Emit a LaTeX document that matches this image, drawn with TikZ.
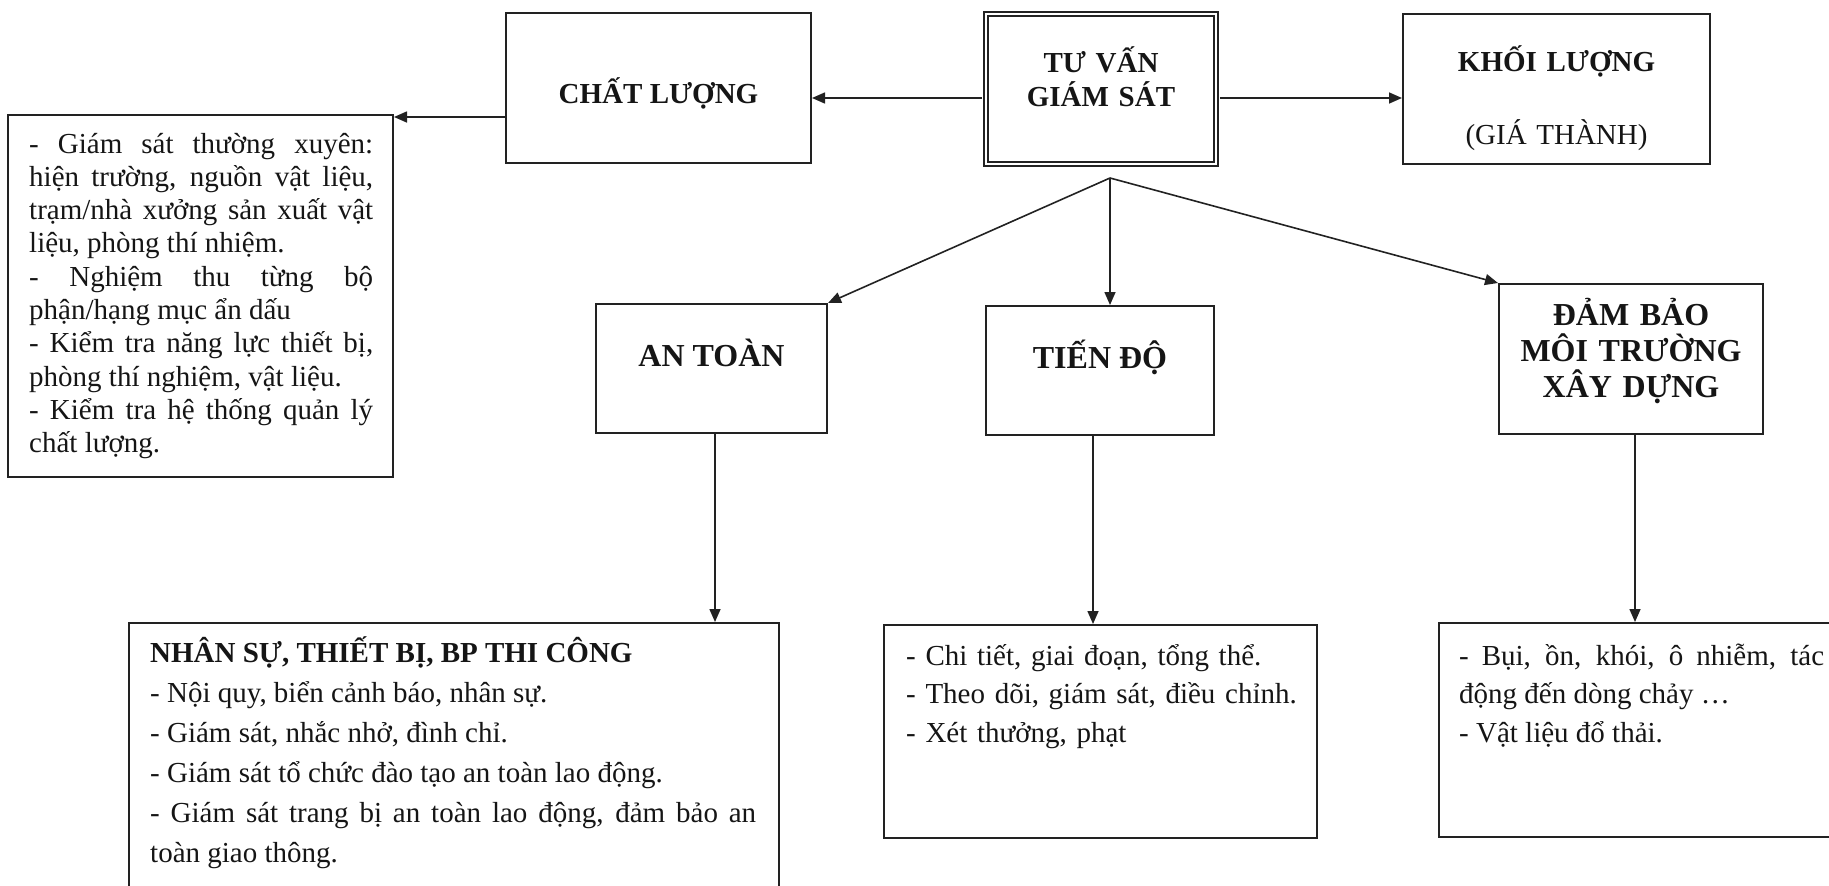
\documentclass[tikz,border=0pt]{standalone}
\usepackage{fontspec}
\setmainfont{Liberation Serif}
\usetikzlibrary{arrows.meta}
\definecolor{linec}{HTML}{222222}
\definecolor{textc}{HTML}{151515}
\lineskiplimit=-100pt
\hyphenpenalty=10000
\newcommand{\fsbody}[1]{\fontsize{29}{#1}\selectfont}
\begin{document}
\begin{tikzpicture}[x=1pt,y=-1pt,
  box/.style={draw=linec, line width=2pt, rectangle, inner sep=0pt},
  arr/.style={draw=linec, line width=1.6pt, -{Triangle[length=13pt,width=11pt]}},
  ttl/.style={anchor=base, inner sep=0pt, text=textc, font=\fontsize{29}{34}\selectfont\bfseries},
  mid/.style={anchor=base, inner sep=0pt, text=textc, font=\fontsize{32}{36}\selectfont\bfseries},
  body/.style={anchor=base west, inner sep=0pt, text=textc}
]
\useasboundingbox (0,0) rectangle (1829,886);
\clip (0,0) rectangle (1829,886);

% boxes
\node[box, minimum width=385pt, minimum height=362pt] (qbox) at (200.5,296) {};
\node[box, minimum width=305pt, minimum height=150pt] (chat) at (658.5,88) {};
\node[box, double=white, double distance=2.4pt, line width=1.6pt, minimum width=230.5pt, minimum height=150.5pt] (tvgs) at (1101,89) {};
\node[box, minimum width=307pt, minimum height=150pt] (khoi) at (1556.5,89) {};
\node[box, minimum width=231pt, minimum height=129pt] (an) at (711.5,368.5) {};
\node[box, minimum width=228pt, minimum height=129pt] (tien) at (1100,370.5) {};
\node[box, minimum width=264pt, minimum height=150pt] (dam) at (1631,359) {};
\node[box, minimum width=650pt, minimum height=277pt] (nhan) at (454,761.5) {};
\node[box, minimum width=433pt, minimum height=213pt] (tiend) at (1100.5,731.5) {};
\node[box, minimum width=411pt, minimum height=214pt] (bui) at (1644.5,730) {};

% titles
\node[ttl] (chatT) at (658.5,103) {CHẤT LƯỢNG};
\node[ttl, text width=220pt, align=center] (tvgsT) at (1101,72.6) {\fontsize{29}{34}\selectfont\bfseries TƯ VẤN\\GIÁM SÁT};
\node[anchor=base, inner sep=0pt, text=textc, text width=300pt, align=center,
      font=\fontsize{29}{73}\selectfont] (khoiT) at (1556.5,71.6) {\fontsize{29}{73}\selectfont\textbf{KHỐI LƯỢNG}\\(GIÁ THÀNH)};
\node[mid] (anT) at (711.5,366) {AN TOÀN};
\node[mid] (tienT) at (1100,368) {TIẾN ĐỘ};
\node[mid, text width=260pt, align=center] (damT) at (1631,325.6) {\fontsize{32}{36}\selectfont\bfseries ĐẢM BẢO\\MÔI TRƯỜNG\\XÂY DỰNG};

% body texts
\node[body, font=\fsbody{33.3}, text width=344pt, align=justify] (qT) at (29,153) {\fsbody{33.3}%
- Giám sát thường xuyên:\linebreak hiện trường, nguồn vật liệu,\linebreak trạm/nhà xưởng sản xuất vật\linebreak liệu, phòng thí nhiệm.\par
- Nghiệm thu từng bộ\linebreak phận/hạng mục ẩn dấu\par
- Kiểm tra năng lực thiết bị,\linebreak phòng thí nghiệm, vật liệu.\par
- Kiểm tra hệ thống quản lý\linebreak chất lượng.\par};

\node[body, font=\fsbody{40}, text width=606pt, align=justify] (nhanT) at (150,662) {\fsbody{40}%
\textbf{NHÂN SỰ, THIẾT BỊ, BP THI CÔNG}\par
- Nội quy, biển cảnh báo, nhân sự.\par
- Giám sát, nhắc nhở, đình chỉ.\par
- Giám sát tổ chức đào tạo an toàn lao động.\par
- Giám sát trang bị an toàn lao động, đảm bảo an\linebreak toàn giao thông.\par};

\node[body, font=\fsbody{38.5}, text width=400pt, align=left] (tiendT) at (906,665) {\fsbody{38.5}%
- Chi tiết, giai đoạn, tổng thể.\\
- Theo dõi, giám sát, điều chỉnh.\\
- Xét thưởng, phạt};

\node[body, font=\fsbody{38.5}, text width=365pt, align=justify] (buiT) at (1459,665) {\fsbody{38.5}%
- Bụi, ồn, khói, ô nhiễm, tác\linebreak động đến dòng chảy …\par
- Vật liệu đổ thải.\par};

% connectors
\coordinate (br) at (1110,178);
\draw[arr] ([shift={(-2.8pt,-9pt)}]tvgs.west) -- ([yshift=-9pt]tvgs.west -| chat.east);
\draw[arr] ([shift={(2.8pt,-9pt)}]tvgs.east) -- ([yshift=-9pt]tvgs.east -| khoi.west);
\draw[arr] ([yshift=-29pt]chat.west) -- ([yshift=-29pt]chat.west -| qbox.east);
\draw[arr] (br) -- (an.north east);
\draw[arr] (br) -- (br |- tien.north);
\draw[arr] (br) -- (dam.north west);
\draw[arr] ([xshift=3.5pt]an.south) -- ([xshift=3.5pt]an.south |- nhan.north);
\draw[arr] ([xshift=-7pt]tien.south) -- ([xshift=-7pt]tien.south |- tiend.north);
\draw[arr] ([xshift=4pt]dam.south) -- ([xshift=4pt]dam.south |- bui.north);
\end{tikzpicture}
\end{document}
